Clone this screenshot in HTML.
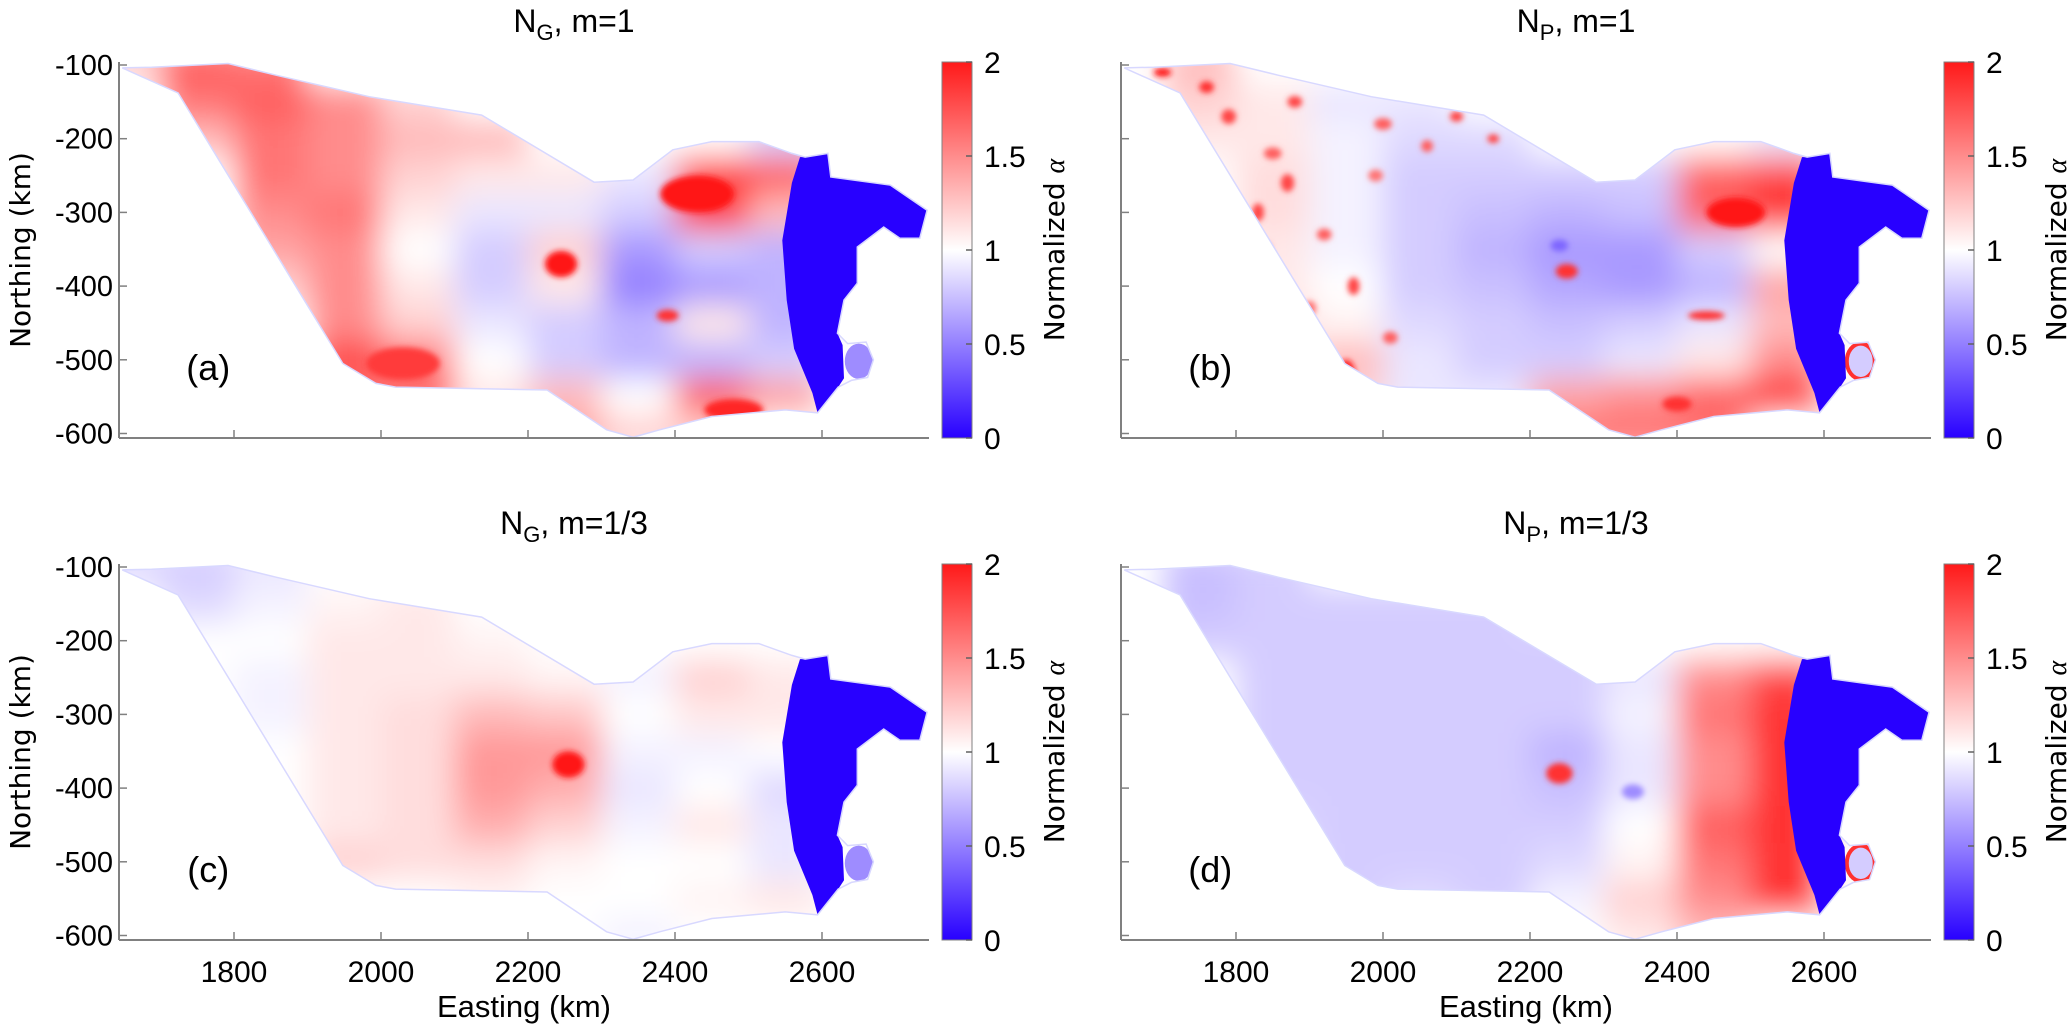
<!DOCTYPE html>
<html><head><meta charset="utf-8">
<style>
html,body{margin:0;padding:0;background:#fff;}
svg{display:block;}
text{font-family:"Liberation Sans",sans-serif;fill:#000;}
</style></head>
<body>
<svg id="fig" width="2067" height="1024" viewBox="0 0 2067 1024" xmlns="http://www.w3.org/2000/svg">
<defs>
<filter id="blurBig" x="-20%" y="-20%" width="140%" height="140%"><feGaussianBlur stdDeviation="16"/></filter>
<filter id="blurSmall" x="-50%" y="-50%" width="200%" height="200%"><feGaussianBlur stdDeviation="3"/></filter>
<linearGradient id="cbGrad" x1="0" y1="1" x2="0" y2="0">
<stop offset="0" stop-color="rgb(40,0,255)"/><stop offset="0.5" stop-color="#ffffff"/><stop offset="1" stop-color="rgb(255,25,25)"/>
</linearGradient>
</defs>
</svg>
<script>
// ---- data ----
const eastings = [1650,1750,1850,1950,2050,2150,2250,2350,2450,2550,2650,2750];
const northings = [-100,-150,-200,-250,-300,-350,-400,-450,-500,-550,-600];
const valsA = [
[1.2,1.7,1.6,1,1,1,1,1,1,1,1,1],
[1,1.6,1.7,1.5,1.2,1,1,1,1,1,1,1],
[1,1.3,1.6,1.5,1.3,1.3,1,1,1,0.8,0.8,1],
[1,1,1.6,1.5,1.2,1.1,1.1,0.9,1.9,1.7,0.8,1],
[1,1,1.5,1.6,1.1,0.9,0.9,0.8,1.9,1.3,1,1],
[1,1,1.4,1.5,1.0,0.8,1.2,0.6,0.8,0.7,1,1],
[1,1,1.2,1.5,1.1,0.8,1.1,0.5,0.6,0.7,1,1],
[1,1,1,1.5,1.2,0.9,0.8,0.7,1.1,0.7,1,1],
[1,1,1,1.8,1.6,1,0.8,0.7,0.7,0.8,1,1],
[1,1,1,1.6,1.7,1.1,1.3,1.0,1.7,1.4,1,1],
[1,1,1,1,1,1,1.4,1.2,1.2,1,1,1]];
const valsB = [
[1,1.3,1,1,1,1,1,1,1,1,1,1],
[1,1.2,1.1,0.9,0.9,1,1,1,1,1,1,1],
[1,1.1,1.1,0.95,0.85,0.85,1,1,1,0.9,1,1],
[1,1,1.15,0.95,0.8,0.8,0.8,0.8,1.7,1.8,1,1],
[1,1,1.15,0.95,0.8,0.75,0.7,0.75,1.7,1.9,1,1],
[1,1,1.1,0.95,0.8,0.7,0.6,0.6,0.8,1.0,1,1],
[1,1,1.1,1.0,0.8,0.75,0.65,0.6,0.7,1.4,1,1],
[1,1,1.2,1.05,0.85,0.8,0.75,0.8,0.9,1.3,1,1],
[1,1,1,1.3,0.9,0.8,0.8,0.9,1.1,1.5,1,1],
[1,1,1,1.2,0.9,0.9,1.4,1.5,1.7,1.9,1,1],
[1,1,1,1,1,1,1.6,1.6,1.6,1,1,1]];
const valsC = [
[0.85,0.8,0.9,1,1,1,1,1,1,1,1,1],
[1,0.85,0.95,1.05,1.1,1,1,1,1,1,1,1],
[1,1,1.0,1.1,1.1,1.05,1,1,1,1,1,1],
[1,1,0.95,1.1,1.1,1.1,1.05,0.95,1.2,1.1,1,1],
[1,1,0.95,1.1,1.15,1.3,1.25,1.0,1.1,1.1,1,1],
[1,1,1,1.1,1.15,1.45,1.45,0.95,0.95,1.0,1,1],
[1,1,1,1.1,1.15,1.45,1.35,0.9,1.0,0.85,1,1],
[1,1,1,1.1,1.15,1.35,1.2,0.95,1.1,0.9,1,1],
[1,1,1,1.2,1.15,1.15,1.05,1.0,1.0,0.9,1,1],
[1,1,1,1,1.0,1.05,1.0,1.0,1.05,1.1,1,1],
[1,1,1,1,1,1,1,0.95,1,1,1,1]];
const valsD = [
[1,0.75,0.8,1,1,1,1,1,1,1,1,1],
[1,0.75,0.8,0.8,0.8,0.8,1,1,1,1,1,1],
[1,0.8,0.8,0.8,0.8,0.8,0.8,1,1,1,1,1],
[1,1,0.8,0.8,0.8,0.8,0.8,0.9,1.5,1.8,1,1],
[1,1,0.8,0.8,0.8,0.8,0.8,0.95,1.6,1.9,1,1],
[1,1,0.8,0.8,0.8,0.8,0.7,0.9,1.5,1.9,1,1],
[1,1,0.8,0.8,0.8,0.8,0.75,0.9,1.5,1.9,1,1],
[1,1,0.85,0.8,0.8,0.8,0.8,1.0,1.7,1.9,1,1],
[1,1,1,0.8,0.8,0.8,0.85,1.05,1.6,1.9,1,1],
[1,1,1,0.8,0.85,0.8,0.95,1.2,1.5,1.9,1,1],
[1,1,1,1,1,1,1.0,1.1,1.3,1,1,1]];
// blobs: center easting, center northing, radius E (km), radius N (km), value
const blobsA_E = [2245,2030,2480,2430,2390];
const blobsA_N = [-370,-505,-568,-275,-440];
const blobsA_R = [22,50,40,50,15];
const blobsA_S = [18,22,15,25,8];
const blobsA_V = [2,1.85,1.95,2,1.9];
const blobsB_E = [2250,1700,1760,1880,1950,1900,2440,2480,1830,2000,2240,1790,1850,1870,1920,1960,1900,1990,2060,2100,1840,2010,2150,2400];
const blobsB_N = [-380,-110,-130,-150,-520,-480,-440,-300,-300,-180,-345,-170,-220,-260,-330,-400,-430,-250,-210,-170,-350,-470,-200,-560];
const blobsB_R = [15,12,10,10,12,8,25,40,8,12,12,10,12,9,10,8,9,10,8,9,8,10,8,20];
const blobsB_S = [10,6,8,8,20,15,6,20,12,8,8,10,8,12,8,12,10,8,8,7,10,8,6,10];
const blobsB_V = [1.9,2,1.9,1.8,2,1.9,1.9,2,1.8,1.7,0.4,1.8,1.7,1.8,1.7,1.8,1.6,1.6,1.7,1.8,1.6,1.7,1.8,1.9];
const blobsC_E = [2255];
const blobsC_N = [-368];
const blobsC_R = [22];
const blobsC_S = [18];
const blobsC_V = [2];
const blobsD_E = [2240,2340];
const blobsD_N = [-380,-405];
const blobsD_R = [18,15];
const blobsD_S = [14,10];
const blobsD_V = [1.9,0.55];
const xTicks = [1800,2000,2200,2400,2600];
const yTicks = [-100,-200,-300,-400,-500,-600];
const cbTicks = [0,0.5,1,1.5,2];
// geometry (km)
const outlineE = [1648,1688,1792,1858,1984,2137,2290,2343,2397,2450,2514,2559,2577,2608,2612,2693,2743,2733,2706,2684,2648,2648,2630,2621,2635,2660,2670,2662,2640,2622,2594,2550,2450,2379,2343,2307,2226,2020,1993,1948,1724];
const outlineN = [-104,-103,-98,-114,-143,-168,-259,-256,-215,-204,-204,-220,-225,-220,-252,-263,-297,-335,-335,-320,-347,-396,-419,-464,-478,-476,-500,-524,-528,-537,-572,-568,-577,-595,-605,-595,-541,-537,-532,-505,-138];
const shelfE = [2570,2577,2608,2612,2693,2743,2733,2706,2684,2648,2648,2630,2621,2628,2630,2622,2594,2587,2562,2552,2546,2559];
const shelfN = [-225,-225,-220,-252,-263,-297,-335,-335,-320,-347,-396,-419,-464,-480,-525,-537,-572,-545,-485,-419,-338,-260];

const NS='http://www.w3.org/2000/svg';
const svg=document.getElementById('fig');
function el(tag,attrs,parent){const e=document.createElementNS(NS,tag);for(const k in attrs)e.setAttribute(k,attrs[k]);(parent||svg).appendChild(e);return e;}
function cmap(v){v=Math.max(0,Math.min(2,v));let r,g,b;
 if(v<=1){r=40+215*v;g=255*v;b=255;}else{const t=v-1;r=255;g=255*(1-t)+25*t;b=255*(1-t)+25*t;}
 return 'rgb('+Math.round(r)+','+Math.round(g)+','+Math.round(b)+')';}

const panels=[
 {id:'a',ax:119,ty:62,off:234,vals:valsA,bE:blobsA_E,bN:blobsA_N,bR:blobsA_R,bS:blobsA_S,bV:blobsA_V,title:['N','G',', m=1'],xl:false,yl:true,bump:'a'},
 {id:'b',ax:1121,ty:62,off:1236,vals:valsB,bE:blobsB_E,bN:blobsB_N,bR:blobsB_R,bS:blobsB_S,bV:blobsB_V,title:['N','P',', m=1'],xl:false,yl:false,bump:'r'},
 {id:'c',ax:119,ty:564,off:234,vals:valsC,bE:blobsC_E,bN:blobsC_N,bR:blobsC_R,bS:blobsC_S,bV:blobsC_V,title:['N','G',', m=1/3'],xl:true,yl:true,bump:'a'},
 {id:'d',ax:1121,ty:564,off:1236,vals:valsD,bE:blobsD_E,bN:blobsD_N,bR:blobsD_R,bS:blobsD_S,bV:blobsD_V,title:['N','P',', m=1/3'],xl:true,yl:false,bump:'r'}
];
const SX=0.735, SY=0.737, AW=810, AH=376;

panels.forEach(p=>{
 const px=E=>p.off+(E-1800)*SX;
 const py=N=>p.ty+3+(-100-N)*SY;
 const g=el('g',{});
 
 
 const cp=el('clipPath',{id:'clip'+p.id},svg.querySelector('defs'));
 const pts=outlineE.map((e,i)=>px(e).toFixed(1)+','+py(outlineN[i]).toFixed(1)).join(' ');
 el('polygon',{points:pts},cp);
 const clipG=el('g',{'clip-path':'url(#clip'+p.id+')'},g);
 
 
 const heat=el('g',{filter:'url(#blurBig)'},clipG);
 northings.forEach((n,i)=>eastings.forEach((e,j)=>{
  const r=el('rect',{x:px(e-50),y:py(n+25),width:100*SX+1,height:50*SY+1,fill:cmap(p.vals[i][j])},heat);
  
  
 }));
 const bl=el('g',{filter:'url(#blurSmall)'},clipG);
 p.bE.forEach((e,k)=>{
  const b=el('ellipse',{cx:px(e),cy:py(p.bN[k]),rx:p.bR[k]*SX,ry:p.bS[k]*SY,fill:cmap(p.bV[k])},bl);
  
  
 });
 // bump
 const bu=el('ellipse',{cx:px(2650),cy:py(-502),rx:19*SX,ry:24*SY,fill:p.bump==='a'?cmap(0.55):cmap(0.8),stroke:p.bump==='r'?cmap(1.9):'none','stroke-width':4},clipG);
 
 
 // ice shelf (value 0)
 const sp=shelfE.map((e,i)=>px(e).toFixed(1)+','+py(shelfN[i]).toFixed(1)).join(' ');
 const sh=el('polygon',{points:sp,fill:cmap(0)},clipG);
 
 
 const ol=el('polygon',{points:pts,fill:'none',stroke:'#d8d8ff','stroke-width':1.5},g);
 
 
 // axes
 const yAx=el('line',{x1:p.ax,y1:p.ty,x2:p.ax,y2:p.ty+AH,stroke:'#808080','stroke-width':2},g);
 
 
 const xAx=el('line',{x1:p.ax,y1:p.ty+AH,x2:p.ax+AW,y2:p.ty+AH,stroke:'#808080','stroke-width':2},g);
 
 
 xTicks.forEach(t=>{
  const tk=el('line',{x1:px(t),y1:p.ty+AH,x2:px(t),y2:p.ty+AH-8,stroke:'#808080','stroke-width':1.5},g);
  
  
  if(p.xl){const tl=el('text',{x:px(t),y:p.ty+AH+42,'text-anchor':'middle','font-size':30},g);tl.textContent=t;
   
   }
 });
 yTicks.forEach(t=>{
  const tk=el('line',{x1:p.ax,y1:py(t),x2:p.ax+8,y2:py(t),stroke:'#808080','stroke-width':1.5},g);
  
  
  if(p.yl){const tl=el('text',{x:p.ax-6,y:py(t)+10,'text-anchor':'end','font-size':29},g);tl.textContent=t;
   
   }
 });
 if(p.yl){const yt=el('text',{transform:'translate(30,'+(p.ty+AH/2)+') rotate(-90)','text-anchor':'middle','font-size':28,style:'font-family:"DejaVu Sans",sans-serif'},g);
  yt.textContent='Northing (km)';
  
  }
 if(p.xl){const xt=el('text',{x:p.ax+AW/2,y:1017,'text-anchor':'middle','font-size':31},g);xt.textContent='Easting (km)';
  
  }
 const tt=el('text',{x:p.ax+455,y:p.ty-30,'text-anchor':'middle','font-size':32},g);
 
 
 const s1=el('tspan',{},tt);s1.textContent=p.title[0];
 const s2=el('tspan',{'font-size':22,dy:8},tt);s2.textContent=p.title[1];
 const s3=el('tspan',{dy:-8},tt);s3.textContent=p.title[2];
 const pl=el('text',{x:px(1765),y:py(-510)+13,'text-anchor':'middle','font-size':36},g);pl.textContent='('+p.id+')';
 
 
 const cx=p.ax+AW+13, cw=30;
 const cb=el('rect',{x:cx,y:p.ty,width:cw,height:AH,fill:'url(#cbGrad)',stroke:'#808080','stroke-width':1},g);
 
 
 cbTicks.forEach(t=>{
  const y=p.ty+AH-t/2*AH;
  const tk=el('line',{x1:cx+cw-6,y1:y,x2:cx+cw,y2:y,stroke:'#606060','stroke-width':1.5},g);
  
  
  const tl=el('text',{x:cx+cw+12,y:y+11,'font-size':30},g);tl.textContent=t;
  
  
 });
 const cl=el('text',{transform:'translate('+(cx+cw+92)+','+(p.ty+AH/2)+') rotate(-90)','text-anchor':'middle','font-size':28,style:'font-family:"DejaVu Sans",sans-serif'},g);
 
 
 const c1=el('tspan',{},cl);c1.textContent='Normalized ';
 const c2=el('tspan',{style:'font-family:"Liberation Serif",serif;font-style:italic'},cl);c2.textContent='α';
});
</script>
</body></html>
